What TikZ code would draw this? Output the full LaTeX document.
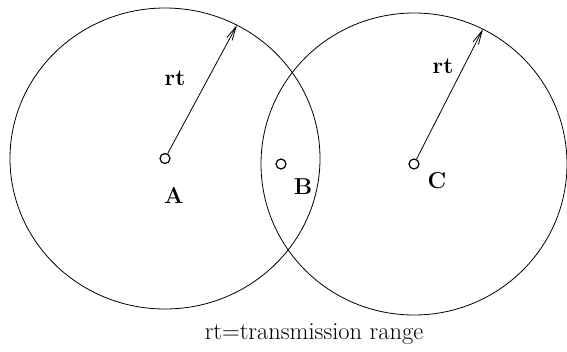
\documentclass[tikz,border=0pt]{standalone}
\usepackage{fontspec}
\usetikzlibrary{calc, positioning}
\usetikzlibrary{arrows.meta}

\begin{document}
\begin{tikzpicture}[x=1pt, y=-1pt]
\def\rxA{155}
\def\ryA{150.5}
\def\rxC{153}
\def\ryC{151}
\tikzset{station/.style={circle, draw, line width=1.2pt, minimum size=10pt, inner sep=0pt},
  coverage/.style={line width=0.8pt},
  radius arrow/.style={line width=0.8pt, -{Straight Barb[length=14pt, width=6pt]}},
  lbl/.style={font=\fontsize{23}{25}\selectfont\bfseries, inner sep=0pt}}

\useasboundingbox (0,0) rectangle (567,351);

\node[station] (A) at (165,158.5) {};
\node[station] (B) at (281,164) {};
\node[station] (C) at (414,164) {};
\coordinate (tipA) at (237,25);
\coordinate (tipC) at (483,29);

\draw[coverage] (A.center) ellipse [x radius=\rxA, y radius=\ryA];
\draw[coverage] (C.center) ellipse [x radius=\rxC, y radius=\ryC];
\draw[radius arrow] (A) -- (tipA);
\draw[radius arrow] (C) -- (tipC);

\node[lbl] (labA) at (174,195) {A};
\node[lbl] (labB) at (303,187) {B};
\node[lbl] (labC) at (437,181) {C};
\node[lbl] (rtA) at (175,78) {rt};
\node[lbl] (rtC) at (443,66) {rt};
\node[font=\fontsize{24.5}{27}\selectfont, inner sep=0pt, anchor=base] (note) at (314,339) {rt=transmission range};
\end{tikzpicture}
\end{document}
